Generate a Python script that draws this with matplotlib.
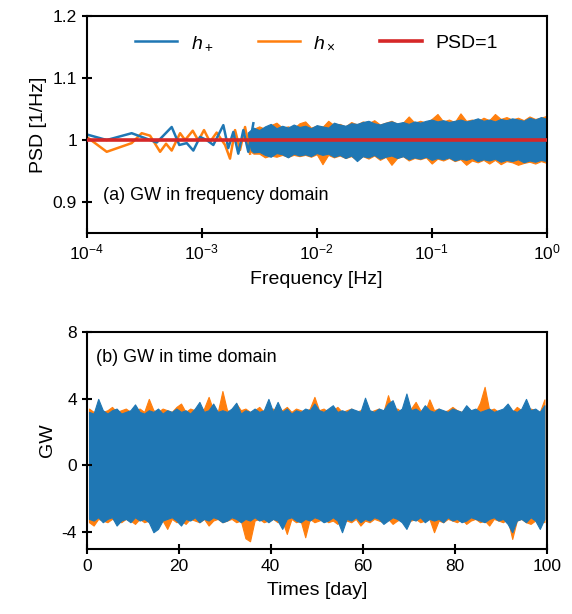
import numpy as np
import matplotlib
matplotlib.use("Agg")
import matplotlib.pyplot as plt
from matplotlib.ticker import NullLocator, FixedLocator

plt.rcParams['font.family'] = ['Liberation Sans', 'DejaVu Sans']
plt.rcParams['mathtext.fontset'] = 'custom'
plt.rcParams['mathtext.rm'] = 'Liberation Sans'
plt.rcParams['mathtext.it'] = 'Liberation Sans:italic'
plt.rcParams['axes.unicode_minus'] = False

BLUE = '#1f77b4'
ORANGE = '#ff7f0e'
RED = '#d62728'

# (a) PSD, sparse low-frequency part (log10 of frequency, PSD)
plus_logf = [-4.0, -3.826, -3.609, -3.391, -3.261, -3.195, -3.130, -3.073, -3.015,
             -2.957, -2.899, -2.812, -2.769, -2.725, -2.682, -2.638, -2.595, -2.551]
plus_psd = [1.009, 1.000, 1.011, 0.996, 1.021, 0.992, 0.995, 0.983, 1.005,
            1.000, 0.992, 1.024, 0.987, 1.013, 0.978, 1.016, 0.981, 1.027]
cross_logf = [-4.0, -3.826, -3.609, -3.522, -3.449, -3.362, -3.310, -3.261, -3.188,
              -3.145, -3.078, -3.029, -2.980, -2.928, -2.870, -2.797, -2.754, -2.710,
              -2.667, -2.623, -2.580]
cross_psd = [1.005, 0.981, 0.995, 1.011, 1.007, 0.981, 0.994, 0.983, 1.011,
             1.000, 1.015, 0.999, 1.016, 0.997, 1.012, 0.992, 0.970, 1.016,
             0.984, 1.021, 0.978]

# (a) dense part: envelope of the noisy PSD from 10^-2.6 to 10^0 Hz
band_logf = np.linspace(-2.6, 0.0, 53)
plus_hi = [1.012, 1.020, 1.016, 1.022, 1.026, 1.019, 1.023, 1.020, 1.025, 1.021,
           1.023, 1.019, 1.024, 1.022, 1.020, 1.028, 1.025, 1.023, 1.027, 1.026,
           1.029, 1.031, 1.027, 1.025, 1.028, 1.030, 1.027, 1.029, 1.026, 1.030,
           1.028, 1.031, 1.033, 1.030, 1.032, 1.029, 1.031, 1.033, 1.030, 1.032,
           1.035, 1.031, 1.033, 1.030, 1.034, 1.032, 1.035, 1.033, 1.031, 1.036,
           1.033, 1.037, 1.034]
plus_lo = [0.988, 0.980, 0.981, 0.976, 0.973, 0.979, 0.977, 0.972, 0.978, 0.975,
           0.977, 0.974, 0.979, 0.976, 0.978, 0.973, 0.976, 0.971, 0.975, 0.966,
           0.974, 0.972, 0.976, 0.970, 0.973, 0.975, 0.971, 0.974, 0.969, 0.972,
           0.970, 0.973, 0.968, 0.971, 0.969, 0.972, 0.967, 0.970, 0.968, 0.971,
           0.966, 0.969, 0.967, 0.970, 0.965, 0.968, 0.966, 0.969, 0.964, 0.967,
           0.965, 0.968, 0.966]
cross_hi = [1.010, 1.018, 1.022, 1.018, 1.024, 1.028, 1.020, 1.022, 1.019, 1.027,
            1.030, 1.020, 1.023, 1.021, 1.031, 1.024, 1.026, 1.022, 1.029, 1.025,
            1.030, 1.027, 1.032, 1.025, 1.028, 1.031, 1.026, 1.028, 1.038, 1.028,
            1.031, 1.028, 1.034, 1.042, 1.030, 1.033, 1.029, 1.043, 1.031, 1.033,
            1.030, 1.036, 1.032, 1.042, 1.034, 1.037, 1.033, 1.036, 1.032, 1.038,
            1.034, 1.036, 1.039]
cross_lo = [0.985, 0.978, 0.978, 0.972, 0.975, 0.973, 0.976, 0.973, 0.976, 0.974,
            0.976, 0.973, 0.977, 0.961, 0.976, 0.972, 0.975, 0.971, 0.974, 0.968,
            0.974, 0.970, 0.975, 0.968, 0.973, 0.960, 0.971, 0.974, 0.967, 0.971,
            0.969, 0.972, 0.962, 0.970, 0.967, 0.971, 0.966, 0.969, 0.960, 0.967,
            0.964, 0.968, 0.962, 0.968, 0.961, 0.966, 0.964, 0.960, 0.963, 0.965,
            0.962, 0.966, 0.963]

# (b) time series envelope, one value per day (0..99)
days = np.arange(100) + 0.5
gw_plus_hi = [3.2, 3.1, 3.98, 3.3, 3.1, 3.3, 3.4, 3.1, 3.2, 3.3,
              3.65, 3.2, 3.1, 3.3, 3.2, 3.4, 3.1, 3.3, 3.2, 3.4,
              3.2, 3.3, 3.1, 3.4, 3.8, 3.2, 3.3, 3.7, 3.2, 3.3,
              3.2, 3.4, 3.75, 3.1, 3.3, 3.2, 3.4, 3.2, 3.3, 3.98,
              3.2, 3.8, 3.2, 3.4, 3.1, 3.3, 3.2, 3.4, 3.3, 3.7,
              3.3, 3.2, 3.4, 3.6, 3.2, 3.3, 3.2, 3.4, 3.3, 3.2,
              4.05, 3.3, 3.2, 3.4, 3.3, 3.7, 3.9, 3.2, 3.4, 4.3,
              3.3, 3.4, 3.2, 3.6, 3.3, 3.2, 3.4, 3.3, 3.2, 3.4,
              3.3, 3.2, 3.6, 3.3, 3.4, 3.2, 3.3, 3.4, 3.2, 3.3,
              3.4, 3.7, 3.3, 3.2, 3.4, 3.98, 3.3, 3.4, 3.2, 3.6]
gw_plus_lo = [-3.2, -3.3, -3.1, -3.4, -3.2, -3.1, -3.6, -3.3, -3.2, -3.4,
              -3.1, -3.3, -3.2, -3.4, -4.0, -3.8, -3.3, -3.2, -3.1, -3.3,
              -3.6, -3.2, -3.3, -3.1, -3.4, -3.2, -3.3, -3.1, -3.2, -3.4,
              -3.3, -3.1, -3.2, -3.4, -3.2, -3.3, -3.1, -3.3, -3.2, -3.4,
              -3.2, -3.3, -3.8, -3.2, -3.1, -3.3, -3.4, -3.2, -3.3, -3.1,
              -3.2, -3.4, -3.3, -3.1, -3.3, -4.0, -3.2, -3.3, -3.1, -3.4,
              -3.2, -3.3, -3.1, -3.2, -3.5, -3.3, -3.1, -3.2, -3.4, -3.8,
              -3.2, -3.3, -3.1, -3.4, -3.2, -3.3, -3.2, -3.4, -3.1, -3.3,
              -3.2, -3.4, -3.3, -3.1, -3.2, -3.3, -3.4, -3.2, -3.1, -3.3,
              -3.2, -3.5, -4.0, -3.3, -3.2, -3.4, -3.1, -3.3, -3.8, -3.2]
gw_cross_hi = [3.4, 3.2, 3.3, 3.2, 3.3, 3.5, 3.2, 3.3, 3.4, 3.2,
               3.3, 3.4, 3.2, 3.98, 3.3, 3.2, 3.4, 3.3, 3.2, 3.5,
               3.7, 3.2, 3.4, 3.3, 3.2, 3.4, 4.1, 3.3, 3.2, 4.45,
               3.3, 3.2, 3.7, 3.3, 3.4, 3.2, 3.3, 3.5, 3.2, 3.3,
               3.4, 3.2, 3.3, 3.5, 3.2, 3.4, 3.3, 3.2, 3.4, 4.1,
               3.3, 3.4, 3.2, 3.3, 3.5, 3.2, 3.3, 3.4, 3.2, 3.3,
               3.4, 3.2, 3.3, 3.4, 3.2, 4.2, 3.3, 3.4, 3.2, 3.3,
               3.4, 3.8, 3.3, 3.2, 3.95, 3.3, 3.4, 3.2, 3.3, 3.5,
               3.3, 3.2, 3.4, 3.3, 3.2, 3.75, 4.7, 3.3, 3.4, 3.2,
               3.3, 3.4, 3.2, 3.5, 3.3, 3.2, 3.4, 3.3, 3.2, 3.95]
gw_cross_lo = [-3.4, -3.6, -3.2, -3.3, -3.4, -3.2, -3.3, -3.4, -3.2, -3.3,
               -3.5, -3.2, -3.4, -3.3, -3.2, -3.4, -3.3, -3.8, -3.2, -3.4,
               -3.3, -3.5, -3.2, -3.3, -3.4, -3.2, -3.6, -3.3, -3.2, -3.4,
               -3.3, -3.2, -3.4, -3.3, -4.36, -4.54, -3.3, -3.2, -3.4, -3.3,
               -3.2, -3.4, -3.3, -4.1, -3.2, -3.4, -3.3, -4.3, -3.2, -3.4,
               -3.3, -3.2, -3.4, -3.3, -3.5, -3.2, -3.3, -3.4, -3.2, -3.6,
               -3.3, -3.4, -3.2, -3.3, -3.4, -3.2, -3.5, -3.3, -3.2, -3.4,
               -3.3, -3.2, -3.4, -3.3, -3.2, -4.0, -3.3, -3.4, -3.2, -3.3,
               -3.4, -3.2, -3.5, -3.3, -3.2, -3.4, -3.3, -3.6, -3.2, -3.3,
               -3.4, -3.2, -4.4, -3.3, -3.2, -3.4, -3.5, -3.3, -3.2, -3.4]


def style_axes(ax):
    for sp in ax.spines.values():
        sp.set_linewidth(1.5)
    ax.tick_params(direction='inout', length=7, width=1.5, labelsize=12.5)


def main():
    fig = plt.figure(figsize=(5.72, 6.14), dpi=100)
    ax1 = fig.add_axes([0.1516, 0.6205, 0.8042, 0.3534])
    ax2 = fig.add_axes([0.1516, 0.1059, 0.8042, 0.3539])

    # (a) frequency domain
    band_f = 10 ** band_logf
    ax1.fill_between(band_f, cross_lo, cross_hi, color=ORANGE, lw=0.8, edgecolor=ORANGE)
    ax1.fill_between(band_f, plus_lo, plus_hi, color=BLUE, lw=0.8, edgecolor=BLUE)
    ax1.plot(10 ** np.array(cross_logf), cross_psd, color=ORANGE, lw=1.8,
             label=r'$h_\times$', zorder=2)
    ax1.plot(10 ** np.array(plus_logf), plus_psd, color=BLUE, lw=1.8,
             label=r'$h_+$', zorder=2.1)
    ax1.axhline(1.0, color=RED, lw=2.6, label='PSD=1', zorder=3)
    ax1.set_xscale('log')
    ax1.set_xlim(1e-4, 1)
    ax1.set_ylim(0.85, 1.2)
    ax1.xaxis.set_major_locator(FixedLocator([1e-4, 1e-3, 1e-2, 1e-1, 1]))
    ax1.xaxis.set_minor_locator(NullLocator())
    ax1.set_yticks([0.9, 1.0, 1.1, 1.2])
    ax1.set_yticklabels(['0.9', '1', '1.1', '1.2'])
    style_axes(ax1)
    ax1.set_xlabel('Frequency [Hz]', fontsize=14, labelpad=6)
    ax1.set_ylabel('PSD [1/Hz]', fontsize=14)
    handles, labels = ax1.get_legend_handles_labels()
    order = [1, 0, 2]
    ax1.legend([handles[i] for i in order], [labels[i] for i in order],
               loc='upper center', bbox_to_anchor=(0.5, 1.0), ncol=3,
               frameon=False, fontsize=14, handlelength=2.15,
               columnspacing=2.3, handletextpad=0.7)
    ax1.text(0.035, 0.175, '(a) GW in frequency domain', transform=ax1.transAxes,
             fontsize=13, va='center', ha='left')

    # (b) time domain
    ax2.fill_between(days, gw_cross_lo, gw_cross_hi, color=ORANGE, lw=0.8, edgecolor=ORANGE)
    ax2.fill_between(days, gw_plus_lo, gw_plus_hi, color=BLUE, lw=0.8, edgecolor=BLUE)
    ax2.set_xlim(0, 100)
    ax2.set_ylim(-5, 8)
    ax2.set_xticks([0, 20, 40, 60, 80, 100])
    ax2.set_yticks([-4, 0, 4, 8])
    style_axes(ax2)
    ax2.set_xlabel('Times [day]', fontsize=14, labelpad=6)
    ax2.set_ylabel('GW', fontsize=14)
    ax2.text(0.02, 0.879, '(b) GW in time domain', transform=ax2.transAxes,
             fontsize=13, va='center', ha='left')

    fig.savefig('out.png', dpi=100)


if __name__ == '__main__':
    main()
